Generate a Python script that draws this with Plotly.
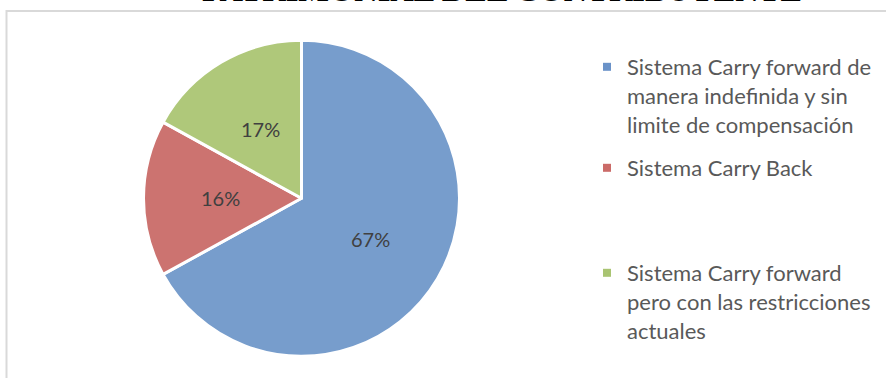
import math
import plotly.graph_objects as go

W, H = 886, 378

title_text = "PATRIMONIAL DEL CONTRIBUYENTE"
categories = [
    "Sistema Carry forward de<br>manera indefinida y sin<br>limite de compensación",
    "Sistema Carry Back",
    "Sistema Carry forward<br>pero con las restricciones<br>actuales",
]
values = [67, 16, 17]
colors = ["#779DCC", "#CC7370", "#AFC87A"]
legend_colors = ["#6A92C8", "#CB6B68", "#A9C472"]

FONT = "Lato"

fig = go.Figure()

# pie geometry (pixels)
cx, cy, r = 301.5, 198.3, 158
fig.add_trace(go.Pie(
    labels=categories,
    values=values,
    sort=False,
    direction="clockwise",
    rotation=0,
    marker=dict(colors=colors, line=dict(color="white", width=3)),
    textinfo="none",
    domain=dict(x=[(cx - r) / W, (cx + r) / W],
                y=[(H - cy - r) / H, (H - cy + r) / H]),
    showlegend=False,
    hoverinfo="label+percent",
))

# percentage labels placed at mid-angle of each slice (computed from values)
total = sum(values)
label_frac = 0.51
annotations = []
cum = 0
for v in values:
    mid = (cum + v / 2) / total * 2 * math.pi  # clockwise from 12 o'clock
    cum += v
    px = cx + math.sin(mid) * r * label_frac
    py = cy - math.cos(mid) * r * label_frac
    annotations.append(dict(
        text=f"{round(100 * v / total)}%",
        xref="paper", yref="paper", x=px / W, y=1 - py / H,
        xanchor="center", yanchor="middle", showarrow=False,
        font=dict(family=FONT, size=20, color="#404040"),
    ))

# legend entries, one legend each so item positions can be set
legend_tops = [46, 147, 252]
legend_names = ["legend", "legend2", "legend3"]
for i, (lab, col) in enumerate(zip(categories, legend_colors)):
    fig.add_trace(go.Scatter(
        x=[None], y=[None], mode="markers", name=lab,
        marker=dict(symbol="square", size=8, color=col),
        legend=legend_names[i], showlegend=True, hoverinfo="skip",
    ))

leg_common = dict(
    x=587 / W, xanchor="left", yanchor="top",
    bgcolor="rgba(0,0,0,0)", borderwidth=0,
    font=dict(family=FONT, size=22, color="#595959"),
    valign="top", itemsizing="trace",
)

annotations.append(dict(
    text="<b>" + title_text + "</b>",
    xref="paper", yref="paper", x=502 / W, y=1 - 9.5 / H,
    xanchor="center", yanchor="bottom", showarrow=False,
    font=dict(family="Liberation Serif", size=32.5, color="black"),
    borderpad=0,
))

fig.update_layout(
    width=W, height=H,
    margin=dict(l=0, r=0, t=0, b=0),
    paper_bgcolor="white",
    plot_bgcolor="white",
    xaxis=dict(visible=False),
    yaxis=dict(visible=False),
    legend=dict(y=1 - legend_tops[0] / H, **leg_common),
    legend2=dict(y=1 - legend_tops[1] / H, **leg_common),
    legend3=dict(y=1 - legend_tops[2] / H, **leg_common),
    shapes=[dict(
        type="rect", xref="paper", yref="paper",
        x0=6.5 / W, x1=1.05, y0=-0.05, y1=1 - 11 / H,
        line=dict(color="#D9D9D9", width=2), fillcolor="rgba(0,0,0,0)",
        layer="below",
    )],
    annotations=annotations,
)

fig.write_html("out.html")
